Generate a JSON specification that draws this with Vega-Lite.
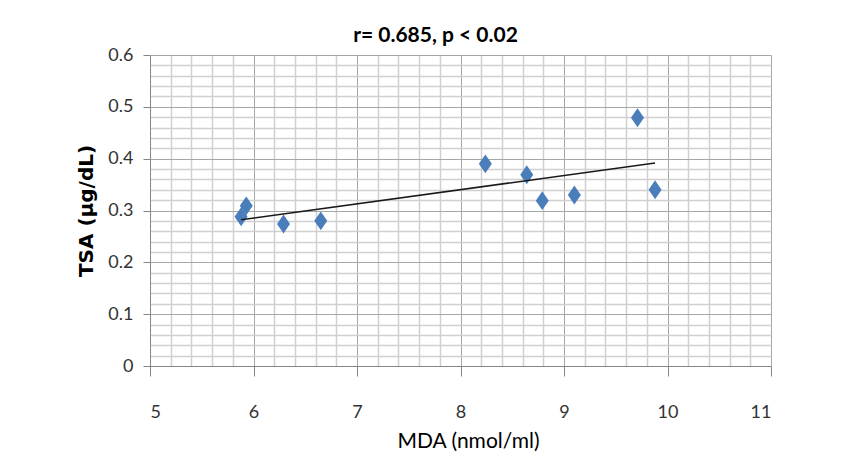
{
  "$schema": "https://vega.github.io/schema/vega-lite/v6.json",
  "width": 621,
  "height": 311,
  "autosize": "none",
  "padding": {"left": 150, "top": 55, "right": 86, "bottom": 96},
  "background": "white",
  "title": {
    "text": "r= 0.685, p < 0.02",
    "font": "Lato",
    "fontSize": 21,
    "fontWeight": "bold",
    "color": "black",
    "anchor": "middle",
    "dx": -25,
    "offset": 0
  },
  "data": {
    "values": [
      {"MDA": 5.88, "TSA": 0.288},
      {"MDA": 5.93, "TSA": 0.309},
      {"MDA": 6.29, "TSA": 0.274},
      {"MDA": 6.65, "TSA": 0.280},
      {"MDA": 8.24, "TSA": 0.390},
      {"MDA": 8.64, "TSA": 0.369},
      {"MDA": 8.79, "TSA": 0.319},
      {"MDA": 9.10, "TSA": 0.330},
      {"MDA": 9.71, "TSA": 0.479},
      {"MDA": 9.88, "TSA": 0.340}
    ]
  },
  "layer": [
    {
      "mark": {
        "type": "point",
        "shape": "M0,-1.45L1,0L0,1.45L-1,0Z",
        "filled": true,
        "color": "#4a7ebb",
        "opacity": 1,
        "size": 169
      },
      "encoding": {
        "x": {
          "field": "MDA",
          "type": "quantitative",
          "scale": {"domain": [5, 11], "nice": false, "zero": false},
          "axis": {
            "orient": "bottom",
            "values": [5, 6, 7, 8, 9, 10, 11],
            "grid": true,
            "gridColor": "#a6a6a6",
            "gridWidth": 1,
            "domainColor": "#868686",
            "domainWidth": 1,
            "tickColor": "#868686",
            "tickSize": 10,
            "labelFont": "Lato",
            "labelFontSize": 18,
            "labelColor": "#333333",
            "labelPadding": 27,
            "title": "MDA (nmol/ml)",
            "titleFont": "Lato",
            "titleFontSize": 21,
            "titleFontWeight": "normal",
            "titleColor": "black",
            "titlePadding": 9,
            "titleX": 318
          }
        },
        "y": {
          "field": "TSA",
          "type": "quantitative",
          "scale": {"domain": [0, 0.6], "nice": false, "zero": true},
          "axis": {
            "orient": "left",
            "values": [0, 0.1, 0.2, 0.3, 0.4, 0.5, 0.6],
            "labelExpr": "datum.value === 0 ? '0' : format(datum.value, '.1f')",
            "grid": true,
            "gridColor": "#a6a6a6",
            "gridWidth": 1,
            "domainColor": "#868686",
            "domainWidth": 1,
            "tickColor": "#868686",
            "tickSize": 7,
            "labelFont": "Lato",
            "labelFontSize": 18,
            "labelColor": "#333333",
            "labelPadding": 10,
            "title": "TSA (µg/dL)",
            "titleFont": "DejaVu Sans",
            "titleFontSize": 20,
            "titleFontWeight": "bold",
            "titleColor": "black",
            "titlePadding": 11
          }
        }
      }
    },
    {
      "mark": {"type": "line", "color": "#1a1a1a", "strokeWidth": 1.5},
      "transform": [{"regression": "TSA", "on": "MDA"}],
      "encoding": {
        "x": {
          "field": "MDA",
          "type": "quantitative",
          "scale": {"domain": [5, 11], "nice": false, "zero": false},
          "axis": {
            "orient": "top",
            "values": [5.2, 5.4, 5.6, 5.8, 6.2, 6.4, 6.6, 6.8, 7.2, 7.4, 7.6, 7.8, 8.2, 8.4, 8.6, 8.8, 9.2, 9.4, 9.6, 9.8, 10.2, 10.4, 10.6, 10.8],
            "grid": true,
            "gridColor": "#d0d0d0",
            "gridWidth": 1.5,
            "ticks": false,
            "labels": false,
            "domain": false,
            "title": null
          }
        },
        "y": {
          "field": "TSA",
          "type": "quantitative",
          "scale": {"domain": [0, 0.6], "nice": false, "zero": true},
          "axis": {
            "orient": "right",
            "values": [0.02, 0.04, 0.06, 0.08, 0.12, 0.14, 0.16, 0.18, 0.22, 0.24, 0.26, 0.28, 0.32, 0.34, 0.36, 0.38, 0.42, 0.44, 0.46, 0.48, 0.52, 0.54, 0.56, 0.58],
            "grid": true,
            "gridColor": "#d0d0d0",
            "gridWidth": 1.5,
            "ticks": false,
            "labels": false,
            "domain": false,
            "title": null
          }
        }
      }
    }
  ],
  "resolve": {"axis": {"x": "independent", "y": "independent"}},
  "config": {"view": {"stroke": null}}
}
